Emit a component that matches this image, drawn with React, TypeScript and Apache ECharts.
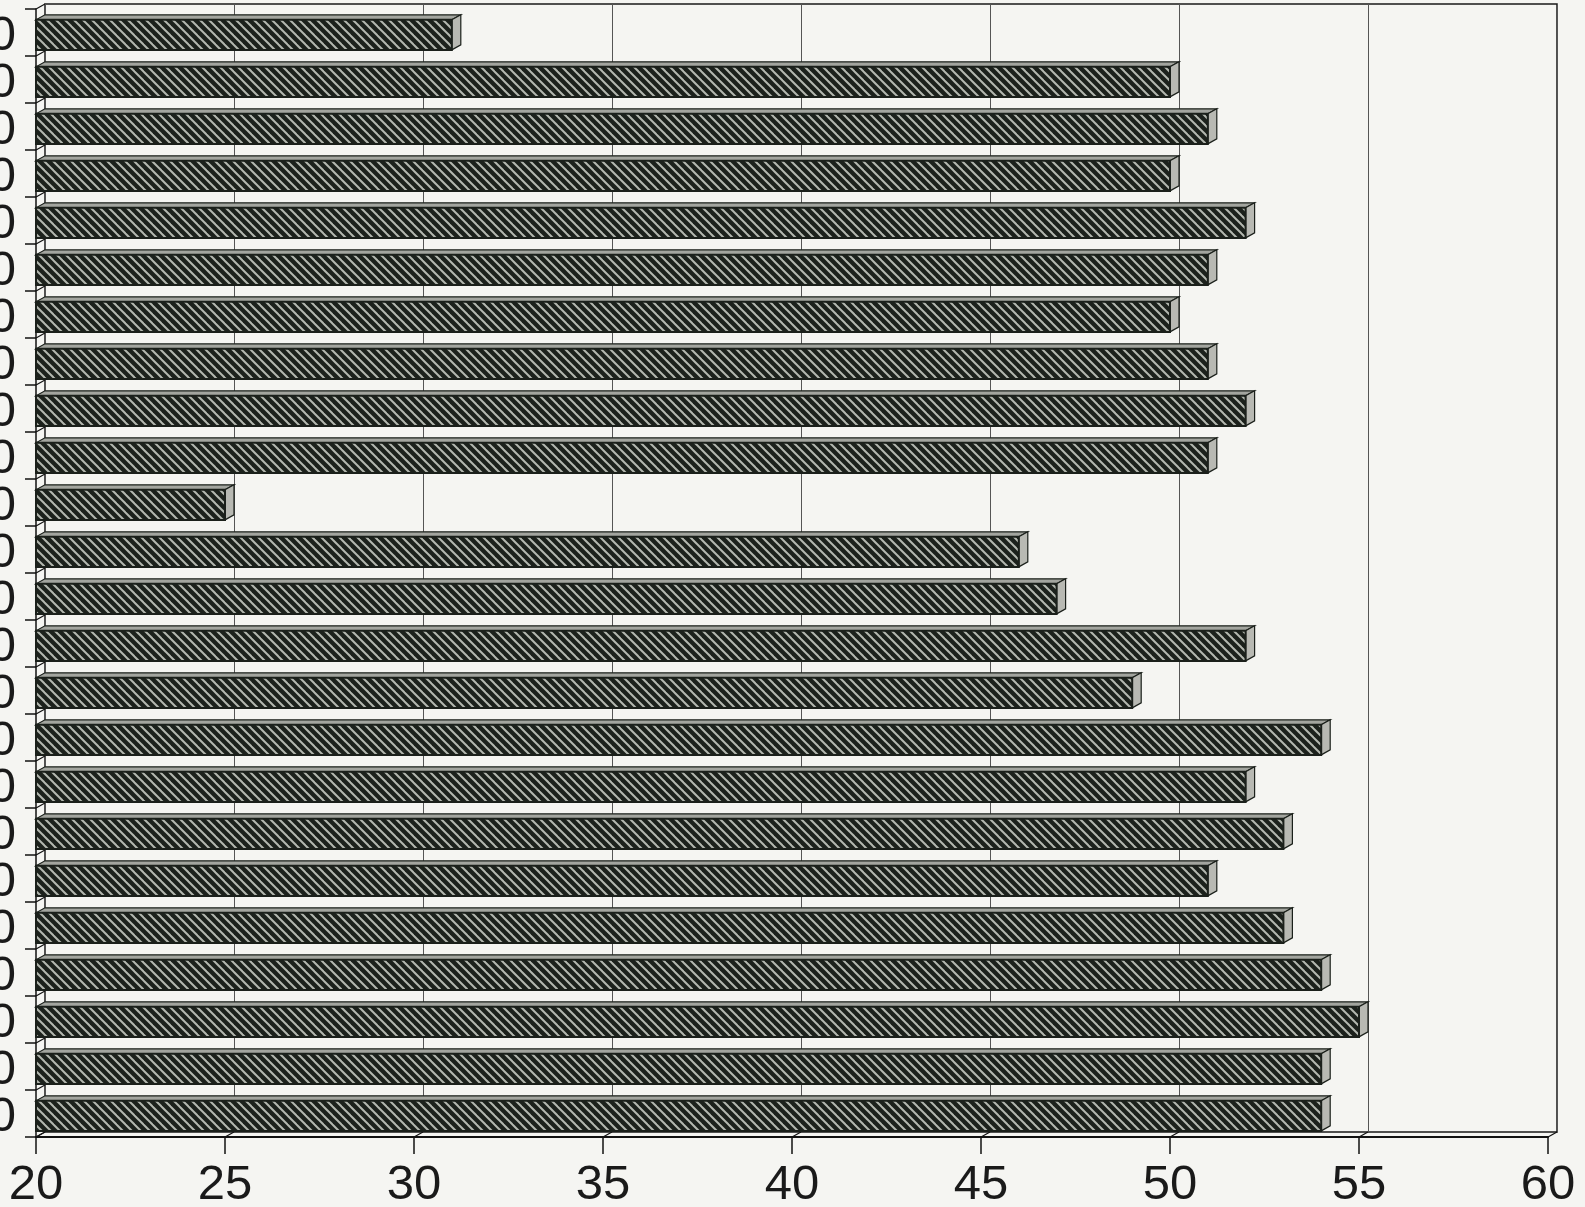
import React, { useEffect, useRef } from "react";
import * as echarts from "echarts";

// Category labels (only the trailing "0" is visible in the reference; the rest is cut off)
const CATEGORIES = ["0","0","0","0","0","0","0","0","0","0","0","0","0","0","0","0","0","0","0","0","0","0","0","0"];
const VALUES = [31, 50, 51, 50, 52, 51, 50, 51, 52, 51, 25, 46, 47, 52, 49, 54, 52, 53, 51, 53, 54, 55, 54, 54];
const X_TICKS = [20, 25, 30, 35, 40, 45, 50, 55, 60];
const X_MIN = 20;
const X_MAX = 60;
const X_STEP = 5;

const DX = 9;
const DY = 5;
const DARK = "#1b201b";
const FONT = "Liberation Sans";

function makeHatch(): HTMLCanvasElement {
  const s = 9;
  const c = document.createElement("canvas");
  c.width = s;
  c.height = s;
  const g = c.getContext("2d")!;
  g.fillStyle = "#1c211c";
  g.fillRect(0, 0, s, s);
  g.strokeStyle = "#b4b8b0";
  g.lineWidth = 2;
  for (const o of [-s, 0, s]) {
    g.beginPath();
    g.moveTo(o - 1, -1);
    g.lineTo(o + s + 1, s + 1);
    g.stroke();
  }
  return c;
}

export default function App() {
  const ref = useRef<HTMLDivElement>(null);
  useEffect(() => {
    if (!ref.current) return;
    const chart = echarts.init(ref.current, undefined, { renderer: "svg" });
    const hatch = makeHatch();
    const pattern: any = { image: hatch, repeat: "repeat", imageWidth: 9, imageHeight: 9 };

    const option: any = {
      animation: false,
      backgroundColor: "#f5f5f2",
      grid: [
        { left: 36, right: 37, top: 9, bottom: 70, outerBoundsMode: "none", containLabel: false },
        {
          left: 45, right: 28, top: 4, bottom: 75, show: true, outerBoundsMode: "none", containLabel: false,
          borderColor: "#1a1a1a", borderWidth: 1.5, backgroundColor: "transparent",
        },
      ],
      xAxis: [
        {
          gridIndex: 0, type: "value", min: X_MIN, max: X_MAX, interval: X_STEP,
          axisLine: { show: true, onZero: false, lineStyle: { color: "#111", width: 2 } },
          axisTick: { show: true, length: 17, lineStyle: { color: "#111", width: 1.5 } },
          axisLabel: { fontSize: 49, fontFamily: FONT, color: "#1a1a1a", margin: 20 },
          splitLine: { show: false },
        },
        {
          gridIndex: 1, type: "value", min: X_MIN, max: X_MAX, interval: X_STEP,
          axisLine: { show: false }, axisTick: { show: false }, axisLabel: { show: false },
          splitLine: { show: true, lineStyle: { color: "#555", width: 1 } },
        },
      ],
      yAxis: [
        {
          gridIndex: 0, type: "category", data: CATEGORIES, inverse: true,
          axisLine: { show: true, onZero: false, lineStyle: { color: "#111", width: 1.5 } },
          axisTick: { show: true, length: 11, lineStyle: { color: "#111", width: 1.5 } },
          axisLabel: { fontSize: 49, lineHeight: 42, fontFamily: FONT, color: "#1a1a1a", margin: 20, interval: 0 },
          splitLine: { show: false },
        },
        { gridIndex: 1, type: "category", data: CATEGORIES, inverse: true, show: false },
      ],
      series: [
        {
          type: "custom",
          name: "frame",
          xAxisIndex: 0, yAxisIndex: 0,
          z: 1,
          data: [[X_MIN, 0]],
          silent: true,
          renderItem: (params: any, api: any) => {
            const cs = params.coordSys;
            const bottom = cs.y + cs.height;
            const band = api.size([0, 1])[1];
            const children: any[] = [];
            const ls = { stroke: "#111", lineWidth: 1.2 };
            for (const t of X_TICKS) {
              const p = api.coord([t, 0]);
              children.push({ type: "line", shape: { x1: p[0], y1: bottom, x2: p[0] + DX, y2: bottom - DY }, style: ls });
            }
            for (let i = 0; i <= CATEGORIES.length; i++) {
              const yb = cs.y + i * band;
              children.push({ type: "line", shape: { x1: cs.x, y1: yb, x2: cs.x + DX, y2: yb - DY }, style: ls });
            }
            return { type: "group", children };
          },
        },
        {
          type: "custom",
          name: "bars",
          xAxisIndex: 0, yAxisIndex: 0,
          z: 3,
          encode: { x: 0, y: 1 },
          data: VALUES.map((v, i) => [v, i]),
          renderItem: (params: any, api: any) => {
            const v = api.value(0);
            const idx = api.value(1);
            const s = api.coord([X_MIN, idx]);
            const e = api.coord([v, idx]);
            const band = api.size([0, 1])[1];
            const c = s[1];
            const fTop = c - band * 0.27;
            const fBot = c + band * 0.37;
            const x0 = s[0];
            const x1 = e[0];
            return {
              type: "group",
              children: [
                {
                  type: "polygon",
                  shape: { points: [[x0, fTop], [x1, fTop], [x1 + DX, fTop - DY], [x0 + DX, fTop - DY]] },
                  style: { fill: "#a3a59f", stroke: DARK, lineWidth: 1.2 },
                },
                {
                  type: "polygon",
                  shape: { points: [[x1, fTop], [x1 + DX, fTop - DY], [x1 + DX, fBot - DY], [x1, fBot]] },
                  style: { fill: "#b8b9b3", stroke: DARK, lineWidth: 1.2 },
                },
                {
                  type: "rect",
                  shape: { x: x0, y: fTop, width: x1 - x0, height: fBot - fTop },
                  style: { fill: pattern, stroke: DARK, lineWidth: 2 },
                },
              ],
            };
          },
        },
      ],
    };
    chart.setOption(option);
    return () => chart.dispose();
  }, []);
  return (
    <div
      ref={ref}
      style={{ position: "absolute", left: 0, top: 0, width: 1585, height: 1207 }}
    />
  );
}
